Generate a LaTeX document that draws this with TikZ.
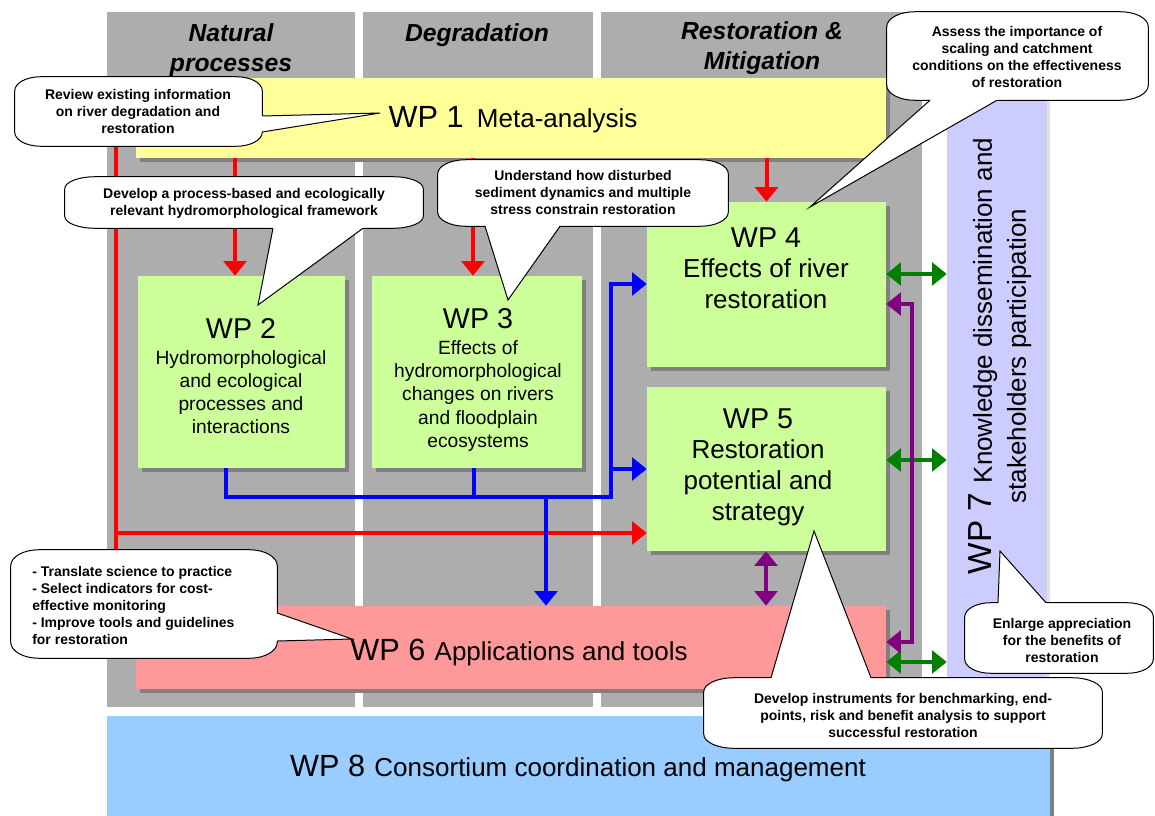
\documentclass[tikz,border=0pt]{standalone}
\usepackage{fontspec}
\setmainfont{Liberation Sans}
\usetikzlibrary{arrows.meta,calc,fit,shadows}

\definecolor{colgray}{HTML}{ADADAD}
\definecolor{shgray}{HTML}{808080}
\definecolor{lavsh}{HTML}{E4E1D6}
\definecolor{wpyellow}{HTML}{FFFF99}
\definecolor{wpgreen}{HTML}{CCFF99}
\definecolor{wppink}{HTML}{FF9999}
\definecolor{wplav}{HTML}{CCCCFF}
\definecolor{wpblue}{HTML}{99CCFF}
\definecolor{arrred}{HTML}{FF0000}
\definecolor{arrblue}{HTML}{0000FF}
\definecolor{arrgreen}{HTML}{008000}
\definecolor{arrpurple}{HTML}{800080}

\newcommand\wpbigf{\fontsize{23}{27}\selectfont}
\newcommand\wpnumf{\fontsize{21.5}{25}\selectfont}
\newcommand\wpbodyf{\fontsize{19.5}{23}\selectfont}
\newcommand\wpsmallf{\fontsize{14.4}{17.4}\selectfont}
\newcommand\headf{\fontsize{18.5}{23}\selectfont\bfseries\itshape}
\newcommand\callf{\fontsize{10.5}{12.75}\selectfont\bfseries}

% callout outline with elliptical corners, drawn round a named fit node
\newcommand\bubbleshape[3]{%
 \path[fill=white,draw=black,line width=0.75pt]
  ([shift={(0,#3)}]#1.north west)
   .. controls ([shift={(0,0.45*#3)}]#1.north west) and ([shift={(0.45*#2,0)}]#1.north west) .. ([shift={(#2,0)}]#1.north west)
   -- ([shift={(-#2,0)}]#1.north east)
   .. controls ([shift={(-0.45*#2,0)}]#1.north east) and ([shift={(0,0.45*#3)}]#1.north east) .. ([shift={(0,#3)}]#1.north east)
   -- ([shift={(0,-#3)}]#1.south east)
   .. controls ([shift={(0,-0.45*#3)}]#1.south east) and ([shift={(-0.45*#2,0)}]#1.south east) .. ([shift={(-#2,0)}]#1.south east)
   -- ([shift={(#2,0)}]#1.south west)
   .. controls ([shift={(0.45*#2,0)}]#1.south west) and ([shift={(0,-0.45*#3)}]#1.south west) .. ([shift={(0,-#3)}]#1.south west)
   -- cycle;}

\begin{document}
\begin{tikzpicture}[x=0.75pt,y=-0.75pt,
  colbox/.style={fill=colgray, inner sep=0pt, draw=none},
  wpbox/.style={inner sep=0pt, draw=none, drop shadow={shadow xshift=3pt,shadow yshift=-3pt,opacity=1,fill=shgray}},
  txt/.style={inner sep=0pt, align=center, text=black},
  headtxt/.style={txt, font=\headf},
  callout/.style={inner sep=0pt, draw=none},
  tailline/.style={draw=black, line width=0.75pt},
  calltxt/.style={txt, font=\callf},
  conn/.style={line width=3pt},
  >={Triangle[width=17pt,length=11pt]},
  redarr/.style={conn, draw=arrred, ->},
  redline/.style={conn, draw=arrred},
  bluearr/.style={conn, draw=arrblue, ->},
  blueline/.style={conn, draw=arrblue},
  greenarr/.style={conn, draw=arrgreen, <->},
  purplearr/.style={conn, draw=arrpurple, <->}
]
\useasboundingbox (0,0) rectangle (1155,816);

% columns
\node[colbox, fit={(107,12) (355,707)}] (col1) {};
\node[colbox, fit={(363,12) (593,707)}] (col2) {};
\node[colbox, fit={(601,12) (922,707)}] (col3) {};
\node[headtxt] (hd1) at (231,50) {Natural\\processes};
\node[headtxt] (hd2) at (477,35) {Degradation};
\node[headtxt] (hd3) at (762,48) {Restoration \&\\Mitigation};

% work packages
\node[wpbox, fill=wpyellow, fit={(136,78) (886,158)}] (wp1) {};
\node[txt] (tx1) at (513,120) {\wpbigf WP 1\hspace{10pt}\wpbodyf Meta-analysis};

\node[wpbox, fill=wpgreen, fit={(138,276) (345,468)}] (wp2) {};
\node[txt, font=\wpsmallf] (tx2) at (241,376) {{\wpnumf WP 2}\\[2pt]Hydromorphological\\and ecological\\processes and\\interactions};

\node[wpbox, fill=wpgreen, fit={(372,276) (582,468)}] (wp3) {};
\node[txt, font=\wpsmallf] (tx3) at (478,380) {{\wpnumf WP 3}\\[2pt]Effects of\\hydromorphological\\changes on rivers\\and floodplain\\ecosystems};

\node[wpbox, fill=wpgreen, fit={(647,202) (886,367)}] (wp4) {};
\node[txt, font=\wpbodyf] (tx4) at (766,268) {{\wpnumf WP 4}\\Effects of river\\restoration};

\node[wpbox, fill=wpgreen, fit={(647,387) (886,551)}] (wp5) {};
\node[txt, font=\wpbodyf] (tx5) at (758,467) {{\wpnumf WP 5}\\Restoration\\potential and\\strategy};

\node[wpbox, fill=wppink, fit={(136,606) (886,689)}] (wp6) {};
\node[txt] (tx6) at (519,652) {\wpbigf WP 6\hspace{7pt}\wpbodyf Applications and tools};

\node[inner sep=0pt, draw=none, fill=wplav, drop shadow={shadow xshift=2.5pt,shadow yshift=0pt,opacity=1,fill=lavsh}, fit={(947,96) (1047,680)}] (wp7) {};
\node[txt, font=\fontsize{19.5}{25.5}\selectfont, rotate=90] (tx7) at (1000,356) {{\fontsize{25}{25.5}\selectfont WP 7\hspace{7pt}}Knowledge dissemination and\\stakeholders participation};

\node[wpbox, fill=wpblue, fit={(107,716) (1050,816)}] (wp8) {};
\node[txt] (tx8) at (578,768) {\wpbigf WP 8\hspace{7pt}\wpbodyf Consortium coordination and management};

% red connectors
\draw[redarr] (wp1.south -| 235,0) -- (wp2.north -| 235,0);
\draw[redarr] (wp1.south -| 473,0) -- (wp3.north -| 473,0);
\draw[redarr] (wp1.south -| wp4.north) -- (wp4.north);
\draw[redline] (116,120) coordinate (rtop) -- (116,600) coordinate (rbot);
\draw[redarr] (116,533) coordinate (rbr) -- (wp5.west |- rbr);

% blue connectors
\coordinate (bj1) at (611,497);
\draw[bluearr] (wp2.south -| 226,0) |- (bj1) |- (wp4.west |- 0,284);
\draw[blueline] (wp3.south -| 474,0) -- (474,497) coordinate (bj3);
\draw[bluearr] (611,469) coordinate (bj2) -- (wp5.west |- bj2);
\draw[bluearr] (546,497) coordinate (bj4) -- (wp6.north -| bj4);

% green connectors
\draw[greenarr] (wp4.east |- 0,274) -- (wp7.west |- 0,274);
\draw[greenarr] (wp5.east |- 0,460) -- (wp7.west |- 0,460);
\draw[greenarr] (wp6.east |- 0,662) -- (wp7.west |- 0,662);

% purple connectors
\draw[purplearr] (wp4.east |- 0,304) -| (912,642) coordinate (pc) -- (wp6.east |- pc);
\draw[purplearr] (wp5.south -| 766,0) -- (wp6.north -| 766,0);

% callout 1
\node[callout, fit={(15,77) (262,146)}] (co1) {};
\bubbleshape{co1}{26}{14}
\coordinate (k1) at (380,113);
\coordinate (k1a) at (co1.east |- 0,116);
\coordinate (k1b) at (co1.east |- 0,132);
\fill[white] ($(k1)!1.08!(k1a)$) -- (k1) -- ($(k1)!1.08!(k1b)$) -- cycle;
\draw[tailline] (k1a) -- (k1) -- (k1b);
\node[calltxt] (ct1) at (138,111) {Review existing information\\on river degradation and\\restoration};

% callout 2
\node[callout, fit={(65,177) (423,228)}] (co2) {};
\bubbleshape{co2}{30}{12}
\coordinate (k2) at (258,305);
\coordinate (k2a) at (co2.south -| 273,0);
\coordinate (k2b) at (co2.south -| 363,0);
\fill[white] ($(k2)!1.08!(k2a)$) -- (k2) -- ($(k2)!1.08!(k2b)$) -- cycle;
\draw[tailline] (k2a) -- (k2) -- (k2b);
\node[calltxt] (ct2) at (244,203) {Develop a process-based and ecologically\\relevant hydromorphological framework};

% callout 3
\node[callout, fit={(438,160) (728,226)}] (co3) {};
\bubbleshape{co3}{28}{14}
\coordinate (k3) at (508,300);
\coordinate (k3a) at (co3.south -| 485,0);
\coordinate (k3b) at (co3.south -| 560,0);
\fill[white] ($(k3)!1.08!(k3a)$) -- (k3) -- ($(k3)!1.08!(k3b)$) -- cycle;
\draw[tailline] (k3a) -- (k3) -- (k3b);
\node[calltxt] (ct3) at (583,192) {Understand how disturbed\\sediment dynamics and multiple\\stress constrain restoration};

% callout 4
\node[callout, fit={(887,12) (1148,100)}] (co4) {};
\bubbleshape{co4}{28}{15}
\coordinate (k4) at (810,207);
\coordinate (k4a) at (co4.south -| 930,0);
\coordinate (k4b) at (co4.south -| 997,0);
\fill[white] ($(k4)!1.06!(k4a)$) -- (k4) -- ($(k4)!1.06!(k4b)$) -- cycle;
\draw[tailline] (k4a) -- (k4) -- (k4b);
\node[calltxt] (ct4) at (1017,57) {Assess the importance of\\scaling and catchment\\conditions on the effectiveness\\of restoration};

% callout 5
\node[callout, fit={(11,550) (277,658)}] (co5) {};
\bubbleshape{co5}{28}{16}
\coordinate (k5) at (352,639);
\coordinate (k5a) at (co5.east |- 0,613);
\coordinate (k5b) at (co5.east |- 0,641);
\fill[white] ($(k5)!1.1!(k5a)$) -- (k5) -- ($(k5)!1.1!(k5b)$) -- cycle;
\draw[tailline] (k5a) -- (k5) -- (k5b);
\node[calltxt, align=left, anchor=west] (ct5) at (32,605) {- Translate science to practice\\- Select indicators for cost-\\effective monitoring\\- Improve tools and guidelines\\for restoration};

% callout 6
\node[callout, fit={(704,678) (1102,748)}] (co6) {};
\bubbleshape{co6}{30}{14}
\coordinate (k6) at (814,531);
\coordinate (k6a) at (co6.north -| 771,0);
\coordinate (k6b) at (co6.north -| 871,0);
\fill[white] ($(k6)!1.05!(k6a)$) -- (k6) -- ($(k6)!1.05!(k6b)$) -- cycle;
\draw[tailline] (k6a) -- (k6) -- (k6b);
\node[calltxt] (ct6) at (903,715) {Develop instruments for benchmarking, end-\\points, risk and benefit analysis to support\\successful restoration};

% callout 7
\node[callout, fit={(965,603) (1153,673)}] (co7) {};
\bubbleshape{co7}{26}{14}
\coordinate (k7) at (1000,551);
\coordinate (k7a) at (co7.north -| 998,0);
\coordinate (k7b) at (co7.north -| 1046,0);
\fill[white] ($(k7)!1.12!(k7a)$) -- (k7) -- ($(k7)!1.12!(k7b)$) -- cycle;
\draw[tailline] (k7a) -- (k7) -- (k7b);
\node[calltxt] (ct7) at (1062,640) {Enlarge appreciation\\for the benefits of\\restoration};

\end{tikzpicture}
\end{document}
